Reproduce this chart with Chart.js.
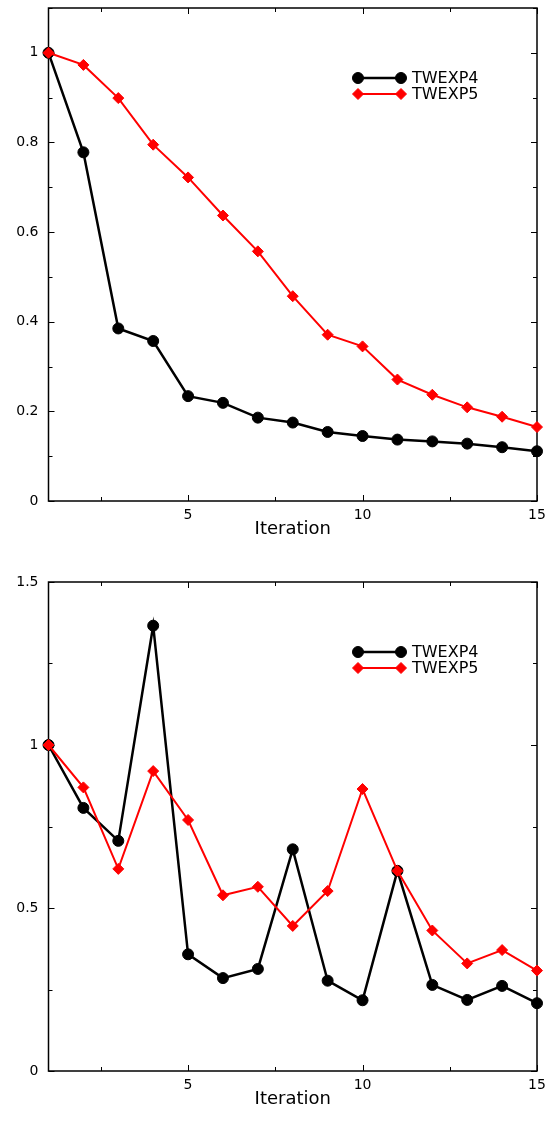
<!DOCTYPE html>
<html>
<head>
<meta charset="utf-8">
<script src="https://cdn.jsdelivr.net/npm/chart.js@4.4.1/dist/chart.umd.min.js"></script>
<style>
  html, body { margin: 0; padding: 0; background: #fff; }
  canvas { display: block; }
</style>
</head>
<body>
<canvas id="chartTop" width="548" height="560"></canvas>
<canvas id="chartBottom" width="548" height="561"></canvas>
<script>
const iterations = [1, 2, 3, 4, 5, 6, 7, 8, 9, 10, 11, 12, 13, 14, 15]
const seriesNames = ['TWEXP4', 'TWEXP5']

// upper panel
const topTwexp4 = [1.0, 0.778, 0.385, 0.357, 0.234, 0.219, 0.186, 0.175, 0.154, 0.145, 0.137, 0.133, 0.128, 0.12, 0.111]
const topTwexp5 = [1.0, 0.973, 0.899, 0.795, 0.722, 0.637, 0.557, 0.457, 0.371, 0.345, 0.271, 0.237, 0.209, 0.188, 0.165]

// lower panel
const bottomTwexp4 = [1.0, 0.807, 0.706, 1.366, 0.358, 0.285, 0.313, 0.68, 0.277, 0.217, 0.614, 0.264, 0.218, 0.261, 0.208]
const bottomTwexp5 = [1.0, 0.87, 0.62, 0.92, 0.77, 0.539, 0.565, 0.445, 0.552, 0.865, 0.614, 0.431, 0.33, 0.371, 0.308]

const xTicks = [2.5, 5, 7.5, 10, 12.5, 15]
const xLabelEvery = 5

const FONT = 'DejaVu Sans'

// box around the plot with inward tick marks on all four sides
const frameTicks = {
    id: 'frameTicks',
    beforeDatasetsDraw(chart) {
        const { ctx, chartArea: a, scales: { x, y } } = chart
        ctx.save()
        ctx.strokeStyle = '#000'
        ctx.lineWidth = 1.5
        ctx.strokeRect(a.left, a.top, a.width, a.height)
        ctx.lineWidth = 1
        ctx.beginPath()
        x.ticks.forEach((t) => {
            const px = Math.round(x.getPixelForValue(t.value)) + 0.5
            const len = t.label ? 6 : 4
            ctx.moveTo(px, a.bottom); ctx.lineTo(px, a.bottom - len)
            ctx.moveTo(px, a.top); ctx.lineTo(px, a.top + len)
        })
        y.ticks.forEach((t) => {
            const py = Math.round(y.getPixelForValue(t.value)) + 0.5
            const len = t.label ? 6 : 4
            ctx.moveTo(a.left, py); ctx.lineTo(a.left + len, py)
            ctx.moveTo(a.right, py); ctx.lineTo(a.right - len, py)
        })
        ctx.stroke()
        ctx.restore()
    },
}

// legend drawn inside the plot: line with a marker at each end
const insetLegend = {
    id: 'insetLegend',
    afterDatasetsDraw(chart) {
        const { ctx, chartArea: a } = chart
        const x0 = 358, x1 = 401
        ctx.save()
        chart.data.datasets.forEach((ds, i) => {
            const yy = a.top + 70 + i * 16
            ctx.strokeStyle = ds.borderColor
            ctx.lineWidth = ds.borderWidth
            ctx.beginPath()
            ctx.moveTo(x0, yy)
            ctx.lineTo(x1, yy)
            ctx.stroke()
            ctx.fillStyle = ds.pointBackgroundColor
            ctx.strokeStyle = ds.pointBorderColor
            ctx.lineWidth = 1
            const pt = { pointStyle: ds.pointStyle, radius: ds.pointRadius, rotation: 0, borderWidth: 1 }
            Chart.helpers.drawPoint(ctx, pt, x0, yy)
            Chart.helpers.drawPoint(ctx, pt, x1, yy)
            ctx.fillStyle = '#000'
            ctx.font = '16px "' + FONT + '"'
            ctx.textBaseline = 'middle'
            ctx.textAlign = 'left'
            ctx.fillText(ds.label, 412, yy + 1)
        })
        ctx.restore()
    },
}

function makeSeries(label, values, color, style, width) {
    return {
        label: label,
        data: values.map((v, i) => ({ x: iterations[i], y: v })),
        borderColor: color,
        borderWidth: width,
        pointStyle: style,
        pointRadius: 5.5,
        pointBorderWidth: 1,
        pointBackgroundColor: color,
        pointBorderColor: color,
        tension: 0,
        clip: false,
    }
}

function makeChart(id, s4, s5, yMax, yStep, yLabelStep, padTop, xHeight) {
    const black = makeSeries(seriesNames[0], s4, '#000000', 'circle', 2.5)
    const red = makeSeries(seriesNames[1], s5, '#ff0000', 'rectRot', 2)
    black.order = 1
    red.order = 0

    return new Chart(document.getElementById(id), {
        type: 'line',
        data: { datasets: [black, red] },
        options: {
            responsive: false,
            animation: false,
            layout: { padding: { top: padTop, right: 11, left: 0, bottom: 0 } },
            plugins: { legend: { display: false }, tooltip: { enabled: false } },
            scales: {
                x: {
                    type: 'linear',
                    min: 1,
                    max: 15,
                    grid: { display: false, drawTicks: false },
                    border: { display: false },
                    afterBuildTicks: (scale) => {
                        scale.ticks = xTicks.map((v) => ({ value: v }))
                    },
                    // plot edges come from layout padding only
                    afterFit: (scale) => {
                        scale.height = xHeight
                        scale.paddingLeft = 0
                        scale.paddingRight = 0
                    },
                    ticks: {
                        autoSkip: false,
                        maxRotation: 0,
                        padding: 6,
                        color: '#000',
                        font: { family: FONT, size: 14 },
                        callback: (v) => (v % xLabelEvery === 0 ? String(v) : ''),
                    },
                    title: {
                        display: true,
                        text: 'Iteration',
                        color: '#000',
                        font: { family: FONT, size: 18 },
                        padding: { top: 0, bottom: xHeight - 39 },
                    },
                },
                y: {
                    min: 0,
                    max: yMax,
                    grid: { display: false, drawTicks: false },
                    border: { display: false },
                    afterFit: (scale) => {
                        scale.width = 48.5
                        scale.paddingTop = 0
                        scale.paddingBottom = 0
                    },
                    ticks: {
                        stepSize: yStep,
                        autoSkip: false,
                        padding: 10,
                        color: '#000',
                        font: { family: FONT, size: 14 },
                        callback: (v) => {
                            const k = Math.round(v / yStep)
                            const every = Math.round(yLabelStep / yStep)
                            if (k % every !== 0) return ''
                            return String(Number(v.toFixed(2)))
                        },
                    },
                },
            },
        },
        plugins: [frameTicks, insetLegend],
    })
}

makeChart('chartTop', topTwexp4, topTwexp5, 1.1, 0.1, 0.2, 8, 59)
makeChart('chartBottom', bottomTwexp4, bottomTwexp5, 1.5, 0.25, 0.5, 22, 50)
</script>
</body>
</html>
